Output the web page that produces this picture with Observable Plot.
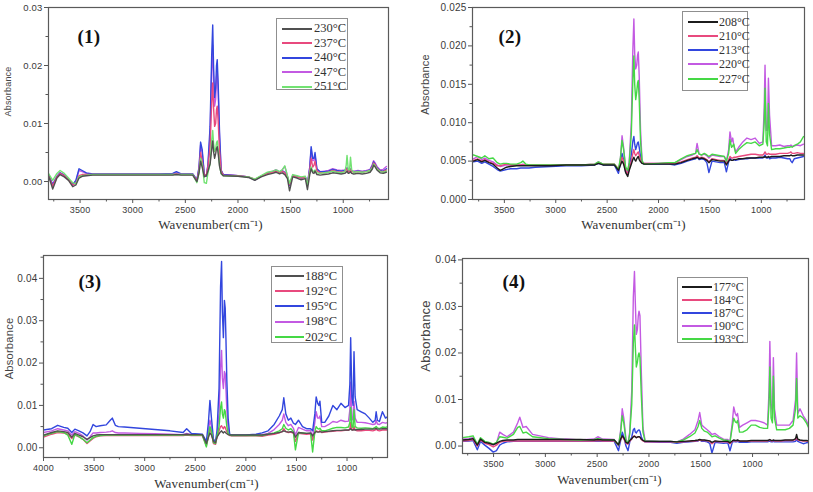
<!DOCTYPE html>
<html><head><meta charset="utf-8">
<script src="https://cdn.jsdelivr.net/npm/d3@7"></script>
<script src="https://cdn.jsdelivr.net/npm/@observablehq/plot@0.6"></script>
<style>
body{margin:0;background:#fff;}
#wrap{position:relative;width:813px;height:492px;overflow:hidden;background:#fff;}
.panel{position:absolute;}
.legend{position:absolute;border:1px solid #8f8f8f;background:#fff;box-sizing:border-box;}
.lg-line{position:absolute;height:2px;}
.lg-text{position:absolute;font-family:"Liberation Serif",serif;color:#333;white-space:nowrap;line-height:1;}
</style></head><body><div id="wrap"></div>
<script>
// wavenumber grid (cm-1) for panels 1-3
const wn_shared = [4000,3920,3860,3800,3760,3720,3690,3650,3610,3570,
3540,3510,3480,3440,3380,3340,3320,3290,3260,3200,
3050,2900,2750,2620,2585,2540,2430,2390,2370,2355,
2340,2320,2300,2285,2265,2250,2240,2232,2222,2212,
2204,2197,2188,2175,2160,2140,2000,1900,1840,1780,
1720,1670,1640,1625,1605,1580,1555,1530,1510,1480,
1440,1400,1360,1340,1318,1305,1290,1278,1268,1250,
1220,1180,1140,1100,1060,1020,985,972,964,952,
940,931,920,900,860,820,780,745,722,712,
700,680,650,620,590];
// wavenumber grid (cm-1) for panel 4, as read against its own axis
const wn_p4 = [3943,3861,3800,3739,3698,3657,3626,3585,3544,3503,
3472,3441,3411,3370,3308,3267,3247,3216,3185,3124,
2970,2816,2663,2530,2494,2448,2335,2294,2273,2258,
2243,2222,2202,2186,2166,2151,2140,2132,2122,2112,
2103,2096,2087,2074,2058,2038,1894,1792,1731,1669,
1608,1556,1526,1510,1490,1464,1438,1413,1392,1362,
1321,1280,1239,1218,1196,1182,1167,1155,1145,1126,
1095,1054,1013,972,931,890,855,841,833,821,
808,799,788,767,726,685,644,609,585,575,
563,542,511,481,450];

// absorbance values in units of 0.001
const p1_230 = [1.2,1.2,1.1,1.0,-1.3,0.6,1.2,0.8,0.2,-0.9, -0.6,0.6,0.9,1.0,1.1,1.1,1.1,1.1,1.1,1.1, 1.1,1.1,1.1,1.1,1.2,1.1,1.1,0.0,1.5,3.5, 2.5,0.8,1.0, 1.8,3.0,5.5,7.0,5.2,4.0,4.8,5.7,6.0,4.8,2.6,1.4,1.0, 0.9,0.7,0.2,0.8, 1.2,1.4,1.6,1.5,1.3,1.5,1.2,0.5,-1.6,0.8, 0.6,0.3,0.5,-1.4,1.2,2.2,1.5,1.4,1.8,1.2, 1.1,1.2,1.3,1.5,1.4,1.3,1.4,1.6,1.8,1.4, 1.5,1.7,1.4,1.3,1.4,1.3,1.4,1.6,2.2,2.8, 2.6,2.0,1.5,1.4,1.6];
const p1_237 = [1.3,1.3,1.2,1.1,-0.8,0.8,1.4,1.0,0.3,-0.6, -0.3,1.0,1.2,1.2,1.2,1.2,1.2,1.2,1.2,1.2, 1.2,1.2,1.2,1.2,1.3,1.2,1.2,0.2,2.0,5.0, 3.5,1.0,1.2, 2.5,6.0,13.5,17.0,12.8,9.5,10.0,12.4,13.0,10.4,5.2,1.8,1.1, 1.0,0.8,0.4,0.9, 1.4,1.6,1.8,1.7,1.5,1.8,1.5,0.8,-0.5,1.0, 0.8,0.6,0.7,-0.5,2.0,4.0,2.5,2.8,3.5,1.8, 1.5,1.5,1.6,1.9,1.7,1.6,1.7,2.0,2.2,1.7, 1.8,2.0,1.7,1.6,1.7,1.6,1.7,1.9,2.6,3.2, 3.0,2.3,1.8,1.7,2.0];
const p1_240 = [1.4,1.4,1.3,1.2,-0.5,0.9,1.5,1.1,0.4,-0.5, 0.2,2.2,1.9,1.5,1.3,1.3,1.3,1.3,1.3,1.3, 1.3,1.3,1.3,1.4,1.7,1.3,1.3,0.3,2.5,6.8, 5.5,1.3,0.9, 3.0,9.5,21.5,27.0,20.0,14.5,16.0,20.0,21.0,16.8,8.4,2.0,1.2, 1.0,0.8,0.3,0.9, 1.5,1.7,1.9,1.8,1.6,1.9,1.6,0.8,-0.6,1.0, 0.8,0.6,0.8,-0.4,2.5,6.0,4.0,4.0,5.0,2.2, 1.7,1.7,1.8,2.1,1.9,1.8,1.9,2.1,2.3,1.9, 1.9,2.1,1.8,1.7,1.8,1.7,1.8,2.0,2.8,3.4, 3.1,2.4,1.9,1.8,2.2];
const p1_247 = [1.4,1.4,1.3,1.2,-0.6,0.8,1.5,1.1,0.4,-0.7, 0.0,1.9,1.7,1.4,1.3,1.3,1.3,1.3,1.3,1.3, 1.3,1.3,1.3,1.3,1.5,1.3,1.3,0.2,2.3,6.3, 5.0,1.2,1.0, 2.8,8.2,18.8,23.5,17.6,13.0,14.2,18.0,19.0,15.2,7.6,1.9,1.2, 1.0,0.8,0.3,0.9, 1.5,1.8,2.0,1.9,1.6,2.0,2.6,0.9,-0.7,1.1, 0.9,0.7,0.8,-0.6,2.4,5.5,3.6,3.6,4.5,2.0, 1.7,1.8,1.9,2.2,2.0,1.9,2.0,2.2,2.4,2.0, 2.0,2.2,1.9,1.8,1.9,1.8,1.9,2.1,3.0,3.6, 3.3,2.6,2.0,2.1,2.6];
const p1_251 = [1.5,1.5,1.4,1.4,0.2,1.4,1.9,1.4,0.6,-0.2, -0.4,0.8,1.0,1.1,1.2,1.2,1.2,1.2,1.2,1.2, 1.2,1.2,1.2,1.2,1.2,1.2,1.2,-0.2,1.5,4.0, 3.0,-0.2,-0.3, 1.5,3.1,7.0,8.8,6.6,5.2,5.6,6.7,7.0,5.6,2.8,1.3,1.0, 0.9,0.8,0.4,1.0, 1.6,1.8,2.0,1.9,1.7,2.0,2.7,1.0,-0.3,1.2, 1.0,0.8,0.9,-0.6,1.6,2.5,1.8,1.7,2.0,1.5, 1.4,1.5,1.6,1.8,1.6,1.5,1.7,2.8,4.5,2.0, 2.0,4.2,2.0,1.6,1.7,1.6,1.7,1.9,2.4,3.0, 2.8,2.2,1.7,1.6,1.8];

const p2_208 = [5.0,5.0,5.0,5.0,5.2,4.9,5.1,4.8,4.6,4.1, 3.8,4.0,4.2,4.3,4.4,4.4,4.4,4.4,4.4,4.4, 4.4,4.5,4.5,4.5,4.7,4.5,4.5,3.8,4.5,5.0, 4.6,3.5,3.0, 3.8,4.6,5.2,5.5,5.2,5.0,5.3,5.5,5.6,5.2,4.9,4.7,4.6, 4.6,4.6,4.6,4.8, 5.1,5.3,5.4,5.5,5.3,5.4,5.3,5.1,4.8,5.2, 5.1,5.0,5.0,4.5,5.0,5.2,5.1,5.1,5.2,5.2, 5.3,5.3,5.4,5.4,5.4,5.5,5.5,5.5,5.6,5.5, 5.5,5.6,5.5,5.6,5.6,5.6,5.7,5.7,5.7,5.8, 5.7,5.7,5.8,5.8,5.8];
const p2_210 = [5.1,5.1,5.1,5.1,5.3,5.0,5.2,4.9,4.7,4.4, 4.4,4.5,4.6,4.5,4.5,4.5,4.5,4.5,4.5,4.5, 4.5,4.5,4.5,4.6,4.8,4.6,4.6,4.0,4.8,5.5, 5.0,3.8,3.3, 4.0,5.0,6.0,6.5,6.0,5.7,5.9,6.1,6.2,5.8,5.2,4.8,4.7, 4.7,4.7,4.7,4.9, 5.2,5.4,5.5,5.7,5.4,5.5,5.4,5.2,4.9,5.3, 5.2,5.1,5.1,4.7,5.2,5.6,5.4,5.4,5.5,5.5, 5.6,5.7,5.8,5.9,5.9,5.8,5.8,6.0,6.2,5.9, 5.9,6.0,5.9,5.9,5.9,6.0,6.0,6.0,6.1,6.2, 6.0,6.0,6.1,6.0,6.0];
const p2_213 = [4.9,4.9,4.9,4.9,5.0,4.7,4.9,4.6,4.3,3.9, 3.7,3.8,3.9,4.0,4.0,4.1,4.1,4.1,4.1,4.2, 4.3,4.4,4.4,4.5,4.7,4.5,4.5,3.4,4.8,6.0, 5.2,3.6,3.2, 4.2,5.8,7.6,8.2,7.2,6.5,7.0,7.4,7.5,6.8,5.6,4.8,4.6, 4.6,4.6,4.5,4.7, 5.0,5.2,5.3,5.6,5.2,5.3,5.2,4.8,3.5,5.0, 4.9,4.8,4.8,3.6,4.9,5.4,5.1,5.1,5.2,5.1, 5.2,5.3,5.3,5.4,5.4,5.4,5.4,5.6,5.8,5.4, 5.4,5.6,5.3,5.4,5.4,5.5,5.4,5.3,5.3,5.0, 4.8,5.3,5.4,5.5,5.6];
const p2_220 = [5.3,5.3,5.3,5.3,5.6,5.2,5.4,5.1,4.9,4.5, 4.3,4.4,4.5,4.5,4.5,4.5,4.6,4.5,4.5,4.5, 4.5,4.5,4.5,4.6,4.9,4.6,4.6,3.6,5.5,8.3, 6.8,4.0,3.5, 5.0,10.0,19.5,23.5,19.0,17.0,17.5,18.8,19.2,16.0,9.0,5.0,4.7, 4.7,4.8,4.8,5.2, 5.6,5.8,6.0,7.3,5.9,5.8,5.9,5.7,5.4,5.8, 5.7,5.6,5.6,5.0,6.5,8.8,7.5,8.0,7.0,6.2, 6.8,7.5,8.0,7.8,8.0,7.3,7.5,12.0,17.5,9.0, 9.0,15.8,11.0,7.0,7.0,7.1,6.9,7.0,7.0,7.1, 6.9,7.0,7.1,7.0,7.2];
const p2_227 = [5.6,5.6,5.8,5.8,5.6,5.4,5.7,5.3,5.4,4.8, 4.6,4.7,4.7,4.6,4.6,4.8,5.0,4.6,4.5,4.5, 4.5,4.5,4.5,4.6,4.9,4.6,4.6,3.9,5.5,7.7, 6.5,4.2,3.8, 4.8,8.5,15.5,18.7,15.0,13.0,14.0,15.2,15.5,13.0,7.5,5.0,4.6, 4.7,4.8,4.8,5.3, 5.7,5.9,6.0,6.5,5.9,5.8,6.0,5.8,5.6,5.9, 5.8,5.7,5.6,5.0,6.0,7.8,6.8,7.0,7.2,6.0, 6.5,7.0,7.4,7.3,7.5,7.0,7.2,10.0,14.5,7.5, 7.0,12.5,8.5,6.5,6.6,6.6,6.7,6.8,6.8,6.9, 6.8,7.0,7.2,7.5,8.2];

const p3_188 = [3.0,3.6,4.0,3.8,3.6,2.5,3.4,3.0,2.6,2.0, 2.4,2.8,3.0,3.1,3.1,3.1,3.1,3.1,3.1,3.1, 3.1,3.1,3.1,3.1,3.2,3.1,3.1,1.0,2.5,3.5, 3.0,1.5,1.2, 2.5,3.3,3.8,4.0,3.7,3.5,3.8,3.7,3.5,3.3,3.1,3.0,3.0, 3.0,3.0,3.0,3.2, 3.4,3.6,3.8,4.0,3.8,3.7,3.8,3.6,2.5,3.6, 3.5,3.4,3.5,2.8,3.6,3.8,3.7,3.7,3.8,3.7, 3.8,3.9,4.0,4.1,4.1,4.2,4.2,4.3,4.5,4.2, 4.2,4.3,4.2,4.3,4.3,4.4,4.4,4.4,4.5,4.6, 4.4,4.4,4.5,4.5,4.5];
const p3_192 = [2.5,3.2,3.6,3.5,3.2,2.2,3.0,2.6,2.0,1.0, 1.6,2.2,2.6,2.8,2.9,2.9,2.9,2.9,2.9,2.9, 2.9,2.9,2.9,2.9,3.0,2.9,2.9,0.5,2.5,4.5, 3.5,1.0,0.8, 2.5,4.0,5.0,5.2,4.8,4.5,5.0,4.8,4.3,3.8,3.2,2.9,2.8, 2.8,2.8,2.7,3.0, 3.2,3.5,3.8,4.5,3.8,3.6,3.7,3.4,1.5,3.4, 3.3,3.2,3.3,1.8,3.6,4.0,3.8,3.8,4.0,3.6, 3.7,3.8,3.9,4.0,4.0,4.1,4.1,4.5,6.0,4.3, 4.2,5.0,4.2,4.0,4.0,4.1,4.1,4.0,4.2,4.5, 4.1,4.0,4.2,4.2,4.2];
const p3_195 = [4.2,4.5,5.3,4.8,4.6,3.6,4.4,4.0,3.5,2.8, 3.8,5.5,5.0,5.2,5.4,6.5,7.0,5.3,5.0,4.9, 4.6,4.3,4.0,3.6,4.5,3.4,3.2,1.5,6.0,11.2, 7.0,2.0,1.5, 4.0,14.0,38.0,44.0,32.0,26.0,34.8,33.0,26.0,16.0,7.0,3.2,3.0, 3.0,3.2,3.5,4.0, 5.5,7.5,9.0,11.8,8.0,6.5,7.0,5.8,5.5,6.5, 5.0,4.5,4.5,4.0,8.0,12.0,10.5,10.0,11.0,6.0, 6.0,7.5,10.0,9.0,10.5,9.5,10.0,15.0,26.0,12.0, 10.0,22.7,12.0,9.0,8.5,8.0,7.0,6.0,6.5,8.5, 6.5,6.2,8.5,7.0,7.5];
const p3_198 = [3.6,4.0,4.5,4.2,4.0,3.0,3.8,3.4,2.8,1.8, 2.6,3.5,3.5,3.6,3.7,3.8,4.0,3.6,3.5,3.5, 3.4,3.3,3.2,3.1,3.4,3.1,3.0,0.8,4.0,6.5, 5.0,1.2,1.0, 3.0,8.0,19.0,23.0,16.5,14.0,18.0,17.5,14.0,9.0,4.5,3.0,2.9, 2.9,3.0,3.1,3.4, 4.3,5.5,6.5,8.0,6.0,5.2,5.5,4.6,3.0,4.8, 4.4,4.0,4.0,2.5,6.0,8.5,7.0,7.0,7.5,5.0, 5.0,5.5,6.2,6.0,6.5,6.2,6.3,9.0,15.5,7.0, 6.5,11.0,7.0,6.0,6.0,5.9,5.7,5.5,5.6,6.5, 5.6,5.5,6.0,5.8,6.0];
const p3_202 = [2.8,3.4,3.8,3.6,3.0,0.8,3.2,2.6,2.0,1.2, 1.8,2.4,2.7,2.9,3.0,3.0,3.0,3.0,3.0,3.0, 3.0,3.0,3.0,3.0,3.1,3.0,3.0,0.2,3.0,5.0, 4.0,1.2,1.0, 2.8,5.0,9.5,10.8,8.0,7.0,9.0,8.6,7.0,5.0,3.4,3.0,2.9, 2.9,2.9,2.9,3.2, 3.5,4.0,4.5,5.5,4.6,4.2,4.5,3.8,-0.5,3.6, 3.5,3.4,3.4,-1.0,3.8,5.0,4.5,4.4,4.6,4.0, 4.0,4.3,4.6,4.8,4.8,4.7,4.9,6.0,9.5,4.9, 4.8,9.0,5.0,4.7,4.6,4.7,4.6,4.5,4.8,5.0, 4.7,4.5,4.9,4.8,5.0];

const p4_177 = [1.2,1.2,1.3,1.4,1.6,0.2,1.5,0.8,0.6,0.3, 0.6,1.0,1.2,1.3,1.3,1.4,1.4,1.4,1.4,1.4, 1.4,1.4,1.4,1.3,1.4,1.3,1.3,0.3,1.5,2.2, 1.8,0.8,0.6, 1.2,1.6,2.0,2.1,2.0,1.8,1.9,2.0,2.0,1.9,1.5,1.2,1.0, 1.0,1.0,0.9,1.0, 1.1,1.2,1.3,1.4,1.3,1.3,1.2,1.1,0.8,1.1, 1.0,1.0,1.0,0.7,1.1,1.3,1.2,1.2,1.3,1.1, 1.1,1.1,1.2,1.2,1.2,1.2,1.2,1.3,1.4,1.2, 1.2,1.3,1.2,1.2,1.2,1.3,1.3,1.3,1.6,2.5, 1.5,1.3,1.2,1.2,1.1];
const p4_184 = [1.0,1.0,1.1,1.2,1.4,0.0,1.3,0.6,0.3,-0.2, 0.2,0.8,1.0,1.1,1.1,1.1,1.1,1.1,1.1,1.1, 1.1,1.1,1.1,1.1,1.2,1.1,1.1,0.2,1.4,2.0, 1.6,0.6,0.4, 1.0,1.5,2.1,2.2,2.0,1.8,1.9,2.0,2.0,1.9,1.4,1.1,0.9, 0.9,0.9,0.8,0.9, 1.0,1.1,1.2,1.3,1.2,1.2,1.1,1.0,0.5,1.0, 0.9,0.9,0.9,0.5,1.0,1.2,1.1,1.1,1.2,1.0, 1.0,1.0,1.1,1.1,1.1,1.1,1.1,1.2,1.3,1.1, 1.1,1.2,1.1,1.1,1.1,1.2,1.2,1.2,1.4,1.8, 1.3,1.2,1.1,1.1,1.0];
const p4_187 = [0.9,0.9,1.0,1.1,1.2,-0.8,1.0,0.2,-0.5,-1.3, -1.0,0.2,0.6,0.9,1.0,1.0,1.0,1.0,1.0,1.0, 1.0,1.0,1.0,1.0,1.1,1.0,1.0,-1.0,1.2,3.0, 2.0,0.0,-1.0, 0.8,2.0,3.5,3.8,3.0,2.8,3.2,3.4,3.5,3.2,2.0,1.2,0.9, 0.8,0.8,0.6,0.8, 0.9,1.0,1.1,1.3,1.0,1.0,0.9,0.6,-1.5,0.8, 0.7,0.6,0.7,-1.0,0.8,1.0,0.9,0.9,1.0,0.8, 0.8,0.8,0.9,0.9,0.9,0.9,0.9,1.0,1.1,0.9, 0.9,1.0,0.9,0.9,0.9,0.9,0.9,0.9,1.0,1.5, 1.0,0.8,0.5,0.7,0.8];
const p4_190 = [1.3,1.4,1.5,1.6,1.8,0.3,1.6,0.9,0.7,0.2, 0.6,3.0,2.5,2.0,3.0,5.0,6.2,4.0,4.2,2.5, 1.8,1.5,1.3,1.5,2.0,1.5,1.4,0.0,3.5,8.0, 6.0,1.5,0.5, 3.0,12.0,32.0,37.5,31.0,24.0,25.0,28.0,29.0,28.0,16.0,4.0,1.2, 1.0,1.0,0.9,1.5, 2.5,3.5,5.5,7.2,4.5,4.0,3.5,3.0,2.5,2.7, 2.0,1.5,1.4,1.0,5.0,8.4,7.0,6.5,7.0,4.0, 4.5,5.0,5.5,5.5,5.3,5.0,4.5,12.0,22.5,9.0, 7.0,19.0,8.0,4.5,4.5,4.5,4.5,5.5,10.0,20.0, 7.0,8.0,6.5,5.5,4.0];
const p4_193 = [1.5,1.6,1.8,2.0,2.2,0.4,1.8,1.0,0.8,0.4, 0.8,2.0,1.9,1.7,2.5,4.0,4.2,2.8,3.0,2.0, 1.6,1.4,1.3,1.4,1.6,1.4,1.3,0.2,3.0,6.5, 5.0,1.2,0.6, 2.5,9.0,22.0,26.0,21.5,17.0,18.0,19.5,20.0,19.0,11.0,3.0,1.1, 1.0,1.0,0.9,1.3, 2.0,2.8,4.2,5.5,3.8,3.2,3.0,2.5,2.0,2.2, 1.7,1.3,1.2,0.9,4.0,6.0,5.2,5.0,5.5,3.0, 3.0,3.5,4.5,4.5,4.0,3.8,3.8,9.0,17.0,6.0, 5.0,15.0,6.0,3.5,3.5,3.5,3.8,4.5,8.0,14.5, 6.0,6.5,6.0,5.0,3.5];

const xMajor = [3500,3000,2500,2000,1500,1000];
const xMajor3 = [4000,3500,3000,2500,2000,1500,1000];
const xMinor = [3750,3250,2750,2250,1750,1250,750];

const C = {black:"#1c1c1c", gray:"#505050", red:"#e84a7e", blue:"#3246de", violet:"#c35ae2", green:"#45d845", lightgreen:"#72e272"};

const panels = [
 {box:[0,0,406,240], m:[7,18,41,48], xd:[3800,570], yd:[-0.0031,0.030], wn: wn_shared,
  yMajor:[0,0.01,0.02,0.03], yMinor:[0.005,0.015,0.025], fmt:".2f", xM:xMajor, yfs:9.5,
  series:[["230°C",p1_230,C.gray],["237°C",p1_237,C.red],["240°C",p1_240,C.blue],["247°C",p1_247,C.violet],["251°C",p1_251,C.lightgreen]],
  tag:"(1)", tagPos:[29,29], yl:[-40,-12,9], xl:[-8,25],
  leg:{x:276,y:18,w:72,h:72,r0:9.5,dr:14.5,l0:5,l1:35,t:37,fs:12.5}},
 {box:[406,0,407,240], m:[7,9,41,66], xd:[3810,580], yd:[0,0.025], wn: wn_shared,
  yMajor:[0,0.005,0.01,0.015,0.02,0.025], yMinor:[0.0025,0.0075,0.0125,0.0175,0.0225], fmt:".3f", xM:xMajor, yfs:10,
  series:[["208°C",p2_208,C.black],["210°C",p2_210,C.red],["213°C",p2_213,C.blue],["220°C",p2_220,C.violet],["227°C",p2_227,C.green]],
  tag:"(2)", tagPos:[26,29.5], yl:[-47,-19,11], xl:[-5,25],
  leg:{x:682,y:11,w:66,h:80,r0:9.7,dr:14.2,l0:5,l1:35,t:36,fs:12}},
 {box:[0,240,406,252], m:[15,19,35,43], xd:[4000,600], yd:[-0.0023,0.0454], wn: wn_shared,
  yMajor:[0,0.01,0.02,0.03,0.04], yMinor:[0.005,0.015,0.025,0.035,0.045], fmt:".2f", xM:xMajor3, yfs:10,
  series:[["188°C",p3_188,C.gray],["192°C",p3_192,C.red],["195°C",p3_195,C.blue],["198°C",p3_198,C.violet],["202°C",p3_202,C.green]],
  tag:"(3)", tagPos:[35,26], yl:[-34,-8,11.2], xl:[-9,26],
  leg:{x:271,y:266,w:72,h:77,r0:9,dr:15.2,l0:3,l1:32,t:33,fs:12.5}},
 {box:[406,240,407,252], m:[18,5,39,56], xd:[3800,460], yd:[-0.0016,0.0403], wn: wn_p4,
  yMajor:[0,0.01,0.02,0.03,0.04], yMinor:[0.005,0.015,0.025,0.035], fmt:".2f", xM:xMajor, yfs:10.5,
  series:[["177°C",p4_177,C.black],["184°C",p4_184,C.red],["187°C",p4_187,C.blue],["190°C",p4_190,C.violet],["193°C",p4_193,C.green]],
  tag:"(4)", tagPos:[40,23], yl:[-37,-20,13], xl:[-26,26],
  leg:{x:677,y:277,w:71,h:66,r0:9,dr:13,l0:4,l1:34,t:35,fs:12}}
];

const drawOrder = [3,2,1,4,0];
const wrap = document.getElementById("wrap");

panels.forEach(p => {
  const [bx,by,bw,bh] = p.box;
  const lines = drawOrder.map(i => {
    const [name, vals, color] = p.series[i];
    const data = p.wn.map((w,k) => ({wn:w, a: vals[k]/1000}));
    return Plot.line(data, {x:"wn", y:"a", stroke: color, strokeWidth: 1.4, clip: true});
  });
  const chart = Plot.plot({
    width: bw, height: bh,
    marginTop: p.m[0], marginRight: p.m[1], marginBottom: p.m[2], marginLeft: p.m[3],
    style: {fontFamily: "'Liberation Sans', Arial, sans-serif", fontSize: "9px", color: "#3a3a3a", background: "transparent", overflow: "visible", letterSpacing: "0.2px"},
    x: {domain: p.xd, label: null},
    y: {domain: p.yd, label: null},
    marks: [
      ...lines,
      Plot.frame({stroke: "#5a5a5a", strokeWidth: 1.2}),
      Plot.axisX({ticks: p.xM, tickSize: 4, tickPadding: 3, tickFormat: d => String(d), label: null, stroke: "#555", fontSize: 9}),
      Plot.axisX({ticks: xMinor, tickSize: 2.5, tickFormat: () => "", label: null, stroke: "#555"}),
      Plot.axisY({ticks: p.yMajor, tickSize: 4, tickPadding: 2, tickFormat: d3.format(p.fmt), label: null, stroke: "#555", fontSize: p.yfs}),
      Plot.axisY({ticks: p.yMinor, tickSize: 2.5, tickFormat: () => "", label: null, stroke: "#555"}),
      Plot.text([p.tag], {frameAnchor: "top-left", dx: p.tagPos[0], dy: p.tagPos[1], textAnchor: "start", lineAnchor: "middle", fontFamily: "'Liberation Serif', serif", fontWeight: "bold", fontSize: 19, fill: "#111"}),
      Plot.text(["Absorbance"], {frameAnchor: "left", dx: p.yl[0], dy: p.yl[1], rotate: -90, textAnchor: "middle", lineAnchor: "middle", fontSize: p.yl[2], fill: "#444"}),
      Plot.text(["Wavenumber(cm⁻¹)"], {frameAnchor: "bottom", dx: p.xl[0], dy: p.xl[1], lineAnchor: "middle", fontFamily: "'Liberation Serif', serif", fontSize: 13, fill: "#333"})
    ]
  });
  chart.classList.add("panel");
  chart.style.left = bx + "px";
  chart.style.top = by + "px";
  wrap.appendChild(chart);

  const L = p.leg;
  const lg = document.createElement("div");
  lg.className = "legend";
  Object.assign(lg.style, {left: L.x+"px", top: L.y+"px", width: L.w+"px", height: L.h+"px"});
  p.series.forEach(([name,, color], i) => {
    const cy = L.r0 + i*L.dr;
    const ln = document.createElement("div");
    ln.className = "lg-line";
    Object.assign(ln.style, {left: L.l0+"px", width: (L.l1-L.l0)+"px", top: (cy-1)+"px", background: color});
    const tx = document.createElement("div");
    tx.className = "lg-text";
    tx.textContent = name;
    Object.assign(tx.style, {left: L.t+"px", top: (cy - L.fs*0.5)+"px", fontSize: L.fs+"px"});
    lg.appendChild(ln); lg.appendChild(tx);
  });
  wrap.appendChild(lg);
});
</script></body></html>
